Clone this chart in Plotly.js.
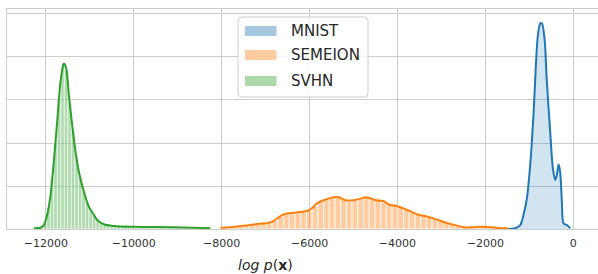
<!DOCTYPE html>
<html>
<head>
<meta charset="utf-8">
<script src="https://cdn.plot.ly/plotly-3.0.1.min.js"></script>
<style>html,body{margin:0;padding:0;background:#fff;}#chart{width:598px;height:274px;}</style>
</head>
<body>
<div id="chart"></div>
<script>
// ---------- data ----------
const seriesNames = ['MNIST', 'SEMEION', 'SVHN'];

// MNIST histogram (bin centres / heights) and KDE curve
const mnistBinCenters = [-1325,-1275,-1225,-1175,-1125,-1075,-1025,-975,-925,-875,-825,-775,-725,-675,-625,-575,-525,-475,-425,-375,-325,-275,-225,-175,-125,-75];
const mnistBinHeights = [0.02,0.03,0.07,0.17,0.35,0.58,0.98,1.55,2.30,3.25,4.15,4.70,4.78,4.60,3.95,3.05,2.25,1.58,1.18,1.25,1.48,1.00,0.18,0.10,0.08,0.03];
const mnistKdeX = [-1470,-1319,-1205,-1130,-1053,-978,-903,-849,-803,-750,-712,-652,-599,-523,-462,-409,-371,-333,-296,-257,-220,-143,-68];
const mnistKdeY = [0.00,0.02,0.09,0.33,0.71,1.49,2.65,3.81,4.51,4.78,4.78,4.43,3.43,2.26,1.41,1.14,1.26,1.50,1.33,0.63,0.13,0.09,0.02];

// SEMEION histogram and KDE curve
const semeionBinCenters = [-7955,-7825,-7695,-7565,-7435,-7305,-7175,-7045,-6915,-6785,-6655,-6525,-6395,-6265,-6135,-6005,-5875,-5745,-5615,-5485,-5355,-5225,-5095,-4965,-4835,-4705,-4575,-4445,-4315,-4185,-4055,-3925,-3795,-3665,-3535,-3405,-3275,-3145,-3015,-2885,-2755,-2625,-2495,-2365,-2235,-2105,-1975,-1845,-1715,-1585];
const semeionBinHeights = [0.03,0.04,0.05,0.06,0.08,0.10,0.11,0.13,0.13,0.20,0.29,0.35,0.36,0.38,0.40,0.42,0.53,0.63,0.68,0.72,0.76,0.70,0.64,0.66,0.69,0.73,0.68,0.72,0.62,0.56,0.54,0.50,0.46,0.39,0.34,0.31,0.27,0.23,0.18,0.15,0.11,0.07,0.05,0.04,0.05,0.05,0.05,0.04,0.03,0.02];
const semeionKdeX = [-8028,-7687,-7384,-7157,-6930,-6816,-6702,-6588,-6398,-6171,-6020,-5906,-5829,-5678,-5451,-5337,-5185,-4996,-4844,-4730,-4617,-4465,-4314,-4200,-4010,-3859,-3707,-3518,-3328,-3138,-2911,-2684,-2495,-2304,-2077,-1849,-1622,-1471];
const semeionKdeY = [0.03,0.05,0.09,0.12,0.14,0.19,0.27,0.34,0.37,0.40,0.43,0.52,0.60,0.67,0.74,0.74,0.67,0.67,0.70,0.74,0.71,0.66,0.65,0.57,0.53,0.48,0.41,0.33,0.29,0.23,0.15,0.09,0.04,0.04,0.05,0.04,0.02,0.02];

// SVHN histogram and KDE curve
const svhnBinCenters = [-12260,-12180,-12100,-12020,-11940,-11860,-11780,-11700,-11620,-11540,-11460,-11380,-11300,-11220,-11140,-11060,-10980,-10900,-10820,-10740,-10660,-10580,-10500,-10420,-10340,-10260,-10180,-10100,-10020,-9940,-9860,-9780,-9700,-9620,-9540,-9460,-9380,-9300,-9220,-9140,-9060,-8980,-8900,-8820,-8740,-8660,-8580,-8500,-8420,-8340,-8260];
const svhnBinHeights = [0.01,0.02,0.04,0.15,0.50,1.12,2.00,3.00,3.75,3.70,2.95,2.25,1.65,1.20,0.88,0.62,0.45,0.31,0.20,0.14,0.10,0.08,0.07,0.06,0.06,0.05,0.05,0.05,0.05,0.04,0.05,0.04,0.04,0.04,0.04,0.03,0.04,0.03,0.03,0.03,0.03,0.03,0.02,0.03,0.02,0.02,0.02,0.02,0.01,0.01,0.01];
const svhnKdeX = [-12275,-12122,-12046,-11970,-11894,-11819,-11743,-11667,-11606,-11591,-11538,-11478,-11402,-11326,-11250,-11137,-11023,-10909,-10833,-10682,-10455,-10000,-9091,-8256];
const svhnKdeY = [0.02,0.03,0.09,0.33,0.79,1.57,2.50,3.43,3.81,3.85,3.74,3.12,2.42,1.80,1.33,0.87,0.52,0.33,0.21,0.11,0.07,0.05,0.04,0.02];

// axis ticks
const xTickValues = [-12000,-10000,-8000,-6000,-4000,-2000,0];
const xTickLabels = ['\u221212000','\u221210000','\u22128000','\u22126000','\u22124000','\u22122000','0'];
const yTickValues = [0,1,2,3,4,5];

// ---------- styling ----------
const lineColors = ['#1f77b4', '#ff7f0e', '#2ca02c'];
const barColors = ['rgba(31,119,180,0.20)', 'rgba(255,127,14,0.40)', 'rgba(44,160,44,0.38)'];
const patchColors = ['rgba(31,119,180,0.40)', 'rgba(255,127,14,0.40)', 'rgba(44,160,44,0.40)'];

const hist = [
  {x: mnistBinCenters, y: mnistBinHeights, w: 50, lw: 0},
  {x: semeionBinCenters, y: semeionBinHeights, w: 130, lw: 0.8},
  {x: svhnBinCenters, y: svhnBinHeights, w: 80, lw: 0.6}
];
const kde = [
  {x: mnistKdeX, y: mnistKdeY},
  {x: semeionKdeX, y: semeionKdeY},
  {x: svhnKdeX, y: svhnKdeY}
];

const traces = [];
for (let i = 0; i < 3; i++) {
  traces.push({
    type: 'bar', x: hist[i].x, y: hist[i].y, width: hist[i].w,
    name: seriesNames[i], showlegend: false, hoverinfo: 'skip',
    marker: {color: barColors[i], line: {color: 'white', width: hist[i].lw}}
  });
  traces.push({
    type: 'scatter', mode: 'lines', x: kde[i].x, y: kde[i].y,
    name: seriesNames[i] + ' KDE', showlegend: false, hoverinfo: 'skip',
    line: {color: lineColors[i], width: 2, shape: 'spline', smoothing: 0.8}
  });
}

// manual legend (rectangular patches like matplotlib)
const L = 7, R = 598, T = 9, B = 229;
const px = v => (v - L) / (R - L);
const py = v => (B - v) / (B - T);
function roundRect(x0, y0, x1, y1, r) {
  const rx = r / (R - L), ry = r / (B - T);
  const X0 = px(x0), X1 = px(x1), Y0 = py(y0), Y1 = py(y1);
  return `M${X0+rx},${Y0} L${X1-rx},${Y0} Q${X1},${Y0} ${X1},${Y0-ry} L${X1},${Y1+ry} Q${X1},${Y1} ${X1-rx},${Y1} L${X0+rx},${Y1} Q${X0},${Y1} ${X0},${Y1+ry} L${X0},${Y0-ry} Q${X0},${Y0} ${X0+rx},${Y0} Z`;
}
const shapes = [{
  type: 'path', xref: 'paper', yref: 'paper', path: roundRect(238, 17, 368, 97, 4),
  fillcolor: 'rgba(255,255,255,0.8)', line: {color: '#cccccc', width: 1}, layer: 'above'
}];
const annotations = [];
const rowY = [31, 55, 81];
for (let i = 0; i < 3; i++) {
  shapes.push({
    type: 'rect', xref: 'paper', yref: 'paper',
    x0: px(245), x1: px(276.5), y0: py(rowY[i] - 5), y1: py(rowY[i] + 5),
    fillcolor: patchColors[i], line: {width: 0}, layer: 'above'
  });
  annotations.push({
    xref: 'paper', yref: 'paper', x: px(289), y: py(rowY[i]),
    xanchor: 'left', yanchor: 'middle', showarrow: false, text: seriesNames[i],
    font: {family: 'DejaVu Sans', size: 15, color: '#262626'}
  });
}
annotations.push({
  xref: 'paper', yref: 'paper', x: px(265), y: py(264.5),
  xanchor: 'center', yanchor: 'middle', showarrow: false,
  text: '<i>log p</i>(<b>x</b>)',
  font: {family: 'DejaVu Sans', size: 14, color: '#262626'}
});

const layout = {
  width: 598, height: 274,
  margin: {l: L, r: 598 - R, t: T, b: 274 - B, pad: 0},
  paper_bgcolor: 'white', plot_bgcolor: 'white',
  barmode: 'overlay', bargap: 0,
  showlegend: false,
  xaxis: {
    range: [-12885, 565], tickvals: xTickValues, ticktext: xTickLabels,
    showgrid: true, gridcolor: '#cccccc', gridwidth: 1, zeroline: false,
    showline: true, linecolor: '#cccccc', linewidth: 1, mirror: true,
    ticks: 'outside', ticklen: 4, tickcolor: 'rgba(0,0,0,0)',
    tickfont: {family: 'DejaVu Sans', size: 11, color: '#333333'}
  },
  yaxis: {
    range: [0, 5.116], tickvals: yTickValues, showticklabels: false,
    showgrid: true, gridcolor: '#cccccc', gridwidth: 1, zeroline: false,
    showline: true, linecolor: '#cccccc', linewidth: 1, ticks: ''
  },
  shapes: shapes,
  annotations: annotations
};

Plotly.newPlot('chart', traces, layout, {staticPlot: true, displayModeBar: false});
</script>
</body>
</html>
